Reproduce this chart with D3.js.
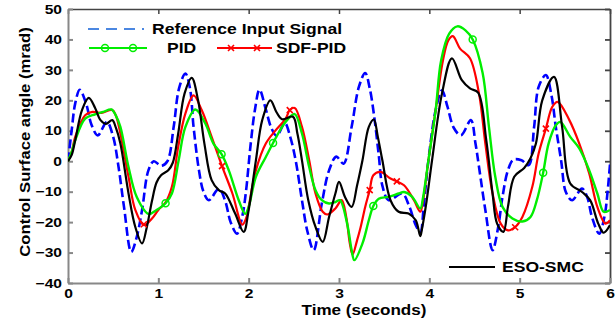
<!DOCTYPE html>
<html>
<head>
<meta charset="utf-8">
<script src="https://cdn.jsdelivr.net/npm/d3@7"></script>
<style>
body { margin: 0; background: #fff; }
text { font-family: "Liberation Sans", Arial, sans-serif; font-weight: bold; fill: #000; }
</style>
</head>
<body>
<svg id="chart" width="615" height="320"></svg>
<script>
// tick values
const xTicks = [0, 1, 2, 3, 4, 5, 6];
const yTicks = [-40, -30, -20, -10, 0, 10, 20, 30, 40, 50];

// [time (s), angle (mrad)]
const reference = [
    [0.00, 0], [0.04, 10], [0.08, 19], [0.13, 23.5], [0.20, 19], [0.26, 12], [0.33, 8.5],
    [0.43, 12.9], [0.50, 8], [0.56, -2], [0.62, -15], [0.70, -29.8], [0.76, -25], [0.82, -16],
    [0.89, -3], [0.95, 0], [1.03, -1.5], [1.10, 0], [1.17, 11.3], [1.23, 24], [1.30, 28.8],
    [1.35, 24], [1.39, 11.3], [1.45, -3], [1.50, -10], [1.56, -12.8], [1.67, -9.0], [1.74, -13],
    [1.80, -20], [1.87, -23.8], [1.93, -18], [1.97, -10], [2.02, 5], [2.07, 17], [2.12, 23.5],
    [2.19, 17], [2.25, 11], [2.31, 8.3], [2.40, 12.5], [2.46, 8], [2.52, 0.3], [2.59, -12.8],
    [2.65, -23], [2.72, -29.2], [2.81, -13.8], [2.89, -3], [2.97, 1.5], [3.05, -0.8], [3.14, 11.3],
    [3.22, 24.4], [3.29, 29], [3.34, 24], [3.39, 14.6], [3.44, 2], [3.48, -8], [3.55, -12.8],
    [3.70, -10.6], [3.78, -15], [3.85, -21], [3.90, -23.2], [3.94, -14], [3.99, 0.3], [4.07, 16.8],
    [4.14, 23.3], [4.20, 18], [4.27, 11], [4.35, 8.5], [4.46, 13.5], [4.51, 6], [4.55, -1.9],
    [4.62, -16], [4.70, -29.2], [4.76, -22], [4.81, -11.7], [4.87, -3], [4.93, 0.5], [5.02, 0.3],
    [5.10, -1.3], [5.16, 11.3], [5.21, 24.4], [5.29, 28.3], [5.35, 22], [5.40, 11.3], [5.46, 0],
    [5.51, -10], [5.58, -12.8], [5.69, -9], [5.75, -12], [5.80, -18.3], [5.88, -23.8], [5.94, -18],
    [5.97, -11], [6.00, -1]
];

const pid = [
    [0, 0], [0.04, 3], [0.08, 6.9], [0.19, 14], [0.30, 15.4], [0.39, 16.2], [0.48, 17], [0.53, 15],
    [0.58, 11.3], [0.67, -1.9], [0.76, -11.7], [0.89, -17.3], [0.98, -16], [1.08, -13.8], [1.15, -10.6],
    [1.225, 0.3], [1.30, 11.3], [1.41, 17], [1.52, 12.4], [1.61, 5.8], [1.70, 2.3], [1.78, -3],
    [1.89, -12.8], [1.96, -17.3], [2.00, -15], [2.08, -5.1], [2.19, 1.4], [2.27, 6], [2.37, 11.3],
    [2.44, 14], [2.51, 15.5], [2.59, 9.1], [2.67, -1.9], [2.74, -9.5], [2.81, -12.8], [2.89, -13.9],
    [2.96, -13.4], [3.01, -12.8], [3.09, -20.5], [3.14, -29.2], [3.17, -32.5], [3.26, -27],
    [3.33, -19.4], [3.38, -14.7], [3.44, -12.3], [3.55, -11.7], [3.66, -10.6], [3.72, -10.1],
    [3.81, -11.7], [3.90, -15.5], [3.93, -12], [3.99, 0.3], [4.07, 16.8], [4.13, 33], [4.22, 41.9],
    [4.31, 44.3], [4.40, 43], [4.48, 40], [4.59, 29], [4.66, 11.3], [4.73, -5.1], [4.81, -15],
    [4.92, -18.8], [5.03, -19.8], [5.12, -18.3], [5.19, -12.8], [5.26, -3.8], [5.32, 5.8],
    [5.40, 11.8], [5.45, 12.9], [5.56, 8], [5.66, 4.2], [5.77, -3], [5.86, -10.6], [5.93, -16.6],
    [6.00, -16]
];

const sdfPid = [
    [0, 0], [0.04, 3], [0.08, 8], [0.19, 15.1], [0.27, 16.2], [0.37, 15.9], [0.49, 16.8], [0.53, 15],
    [0.58, 9.1], [0.67, -5.1], [0.745, -16], [0.84, -21], [0.93, -18.8], [1.00, -16], [1.08, -13.5],
    [1.15, -8.4], [1.22, 4.7], [1.30, 15.7], [1.39, 21.6], [1.48, 16.8], [1.59, 8], [1.705, -1.6],
    [1.82, -10.6], [1.93, -20.8], [1.98, -18], [2.00, -15], [2.08, -3], [2.19, 5.8], [2.30, 10.2],
    [2.41, 14], [2.455, 16.8], [2.51, 17.5], [2.59, 11.3], [2.67, 0.3], [2.74, -10.6], [2.82, -16.6],
    [2.87, -17.5], [2.96, -15.5], [3.03, -12.8], [3.08, -18.3], [3.12, -27], [3.15, -30.7],
    [3.20, -26], [3.24, -21.6], [3.29, -15], [3.34, -9.5], [3.38, -4.6], [3.46, -3.5], [3.57, -5.7],
    [3.64, -6.6], [3.72, -7.9], [3.83, -12.8], [3.90, -16.6], [3.93, -13], [3.99, 0.3], [4.07, 16.8],
    [4.15, 33], [4.21, 39.7], [4.26, 41.1], [4.34, 37], [4.45, 33.8], [4.55, 22.2], [4.62, 5.8],
    [4.70, -10.6], [4.79, -20.5], [4.87, -22.7], [4.95, -21.6], [5.03, -18.3], [5.14, -8.4],
    [5.21, 2.5], [5.29, 10.7], [5.36, 17.8], [5.42, 19.5], [5.55, 13.5], [5.66, 5.8], [5.77, -4],
    [5.86, -15], [5.95, -20.5], [6.00, -19.4]
];

const esoSmc = [
    [0, 0], [0.04, 2], [0.08, 6.9], [0.155, 16.8], [0.23, 20.8], [0.30, 17.5], [0.36, 13.5],
    [0.42, 12.3], [0.49, 13.5], [0.53, 11], [0.58, 5.8], [0.67, -10.6], [0.745, -21.6], [0.82, -27],
    [0.87, -22], [0.93, -13], [0.98, -7], [1.03, -4.6], [1.11, -3], [1.16, -0.5], [1.22, 9.1],
    [1.29, 22.2], [1.37, 27.4], [1.44, 20], [1.51, 5.8], [1.59, -6.2], [1.67, -9.5], [1.74, -10.6],
    [1.85, -17.2], [1.945, -23.2], [2.00, -16], [2.08, 0.3], [2.15, 13.5], [2.24, 20], [2.31, 16],
    [2.37, 13.8], [2.49, 14.6], [2.54, 9], [2.59, 0.3], [2.66, -12.8], [2.74, -21.6], [2.82, -26.5],
    [2.89, -18.3], [2.96, -10.6], [3.00, -6.8], [3.07, -12], [3.14, -15], [3.20, -8], [3.26, 0.3],
    [3.33, 11.3], [3.385, 13.7], [3.43, 8], [3.48, 0.3], [3.57, -12.8], [3.66, -16.6], [3.77, -17.2],
    [3.85, -19.4], [3.90, -24.6], [3.92, -22], [3.97, -13], [4.03, 0.3], [4.14, 22.2], [4.25, 33.8],
    [4.36, 26.6], [4.45, 23.9], [4.54, 22.5], [4.63, 7], [4.70, -10.6], [4.75, -20.5], [4.82, -23.2],
    [4.87, -15], [4.94, -5.1], [5.05, -2.2], [5.12, 1], [5.18, 5.8], [5.25, 20], [5.38, 27.7],
    [5.47, 11.3], [5.56, -7.3], [5.69, -10.1], [5.78, -12.8], [5.87, -20.5], [5.93, -23.5], [6.00, -21]
];

// marker positions on the PID and SDF-PID curves
const pidMarkers = [[1.08, -13.8], [1.70, 2.3], [2.27, 6], [3.38, -14.7], [4.48, 40], [5.26, -3.8]];
const sdfPidMarkers = [[0.84, -20.7], [1.705, -1.6], [2.455, 16.8], [3.34, -9.5], [3.64, -6.6], [4.95, -21.7], [5.29, 10.7]];

const svg = d3.select("#chart");
const plotLeft = 68, plotRight = 610, plotTop = 9, plotBottom = 283;
const textStretch = 1.2;

const x = d3.scaleLinear().domain([0, 6]).range([plotLeft, plotRight]);
const y = d3.scaleLinear().domain([-40, 50]).range([plotBottom, plotTop]);

svg.append("rect").attr("width", 615).attr("height", 320).attr("fill", "#fff");

// box with inward ticks
svg.append("g")
    .attr("transform", "translate(0," + plotTop + ")")
    .call(d3.axisTop(x).tickValues(xTicks).tickSizeInner(-5).tickSizeOuter(0).tickFormat(""))
    .call(g => g.selectAll("line,path").attr("stroke", "#444").attr("stroke-width", 1.5));

svg.append("g")
    .attr("transform", "translate(" + plotRight + ",0)")
    .call(d3.axisRight(y).tickValues(yTicks).tickSizeInner(-5).tickSizeOuter(0).tickFormat(""))
    .call(g => g.selectAll("line,path").attr("stroke", "#444").attr("stroke-width", 1.8));

svg.append("g")
    .attr("transform", "translate(0," + plotBottom + ")")
    .call(d3.axisBottom(x).tickValues(xTicks).tickFormat(d3.format("d"))
        .tickSizeInner(-5).tickSizeOuter(0).tickPadding(6))
    .call(g => g.selectAll("line,path").attr("stroke", "#888").attr("stroke-width", 2))
    .call(g => g.selectAll("text").attr("font-size", 13).attr("font-family", null)
        .attr("transform", "scale(" + textStretch + ",1)"));

svg.append("g")
    .attr("transform", "translate(" + plotLeft + ",0)")
    .call(d3.axisLeft(y).tickValues(yTicks).tickFormat(d3.format("d"))
        .tickSizeInner(-5).tickSizeOuter(0).tickPadding(5))
    .call(g => g.selectAll("line,path").attr("stroke", "#888").attr("stroke-width", 2))
    .call(g => g.selectAll("text").attr("font-size", 13).attr("font-family", null)
        .attr("transform", "scale(" + textStretch + ",1)"));

// axis titles
svg.append("text")
    .attr("transform", "translate(364,315) scale(1.22,1)")
    .attr("text-anchor", "middle")
    .attr("font-size", 14)
    .text("Time (seconds)");

svg.append("text")
    .attr("transform", "translate(30,142) rotate(-90) scale(1.19,1)")
    .attr("text-anchor", "middle")
    .attr("font-size", 14)
    .text("Control Surface angle (mrad)");

// lines
svg.append("clipPath").attr("id", "plot-clip")
    .append("rect").attr("x", plotLeft).attr("y", plotTop)
    .attr("width", plotRight - plotLeft).attr("height", plotBottom - plotTop);

const line = d3.line()
    .x(d => x(d[0]))
    .y(d => y(d[1]))
    .curve(d3.curveCatmullRom.alpha(0.5));

const plot = svg.append("g").attr("clip-path", "url(#plot-clip)");

plot.append("path").datum(reference)
    .attr("d", line).attr("fill", "none")
    .attr("stroke", "#0000ff").attr("stroke-width", 2.6).attr("stroke-dasharray", "9,4");

plot.append("path").datum(sdfPid)
    .attr("d", line).attr("fill", "none")
    .attr("stroke", "#ff0000").attr("stroke-width", 2.2);

plot.append("path").datum(pid)
    .attr("d", line).attr("fill", "none")
    .attr("stroke", "#00ee00").attr("stroke-width", 2.4);

plot.append("path").datum(esoSmc)
    .attr("d", line).attr("fill", "none")
    .attr("stroke", "#000").attr("stroke-width", 2.2);

// markers
function circleMarker(g, cx, cy) {
    g.append("circle").attr("cx", cx).attr("cy", cy).attr("r", 3.5)
        .attr("fill", "none").attr("stroke", "#00ee00").attr("stroke-width", 1.5);
}
function crossMarker(g, cx, cy) {
    g.append("path")
        .attr("d", "M" + (cx - 3) + "," + (cy - 3) + "L" + (cx + 3) + "," + (cy + 3) +
            "M" + (cx - 3) + "," + (cy + 3) + "L" + (cx + 3) + "," + (cy - 3))
        .attr("stroke", "#ff0000").attr("stroke-width", 1.6);
}

pidMarkers.forEach(d => circleMarker(plot, x(d[0]), y(d[1])));
sdfPidMarkers.forEach(d => crossMarker(plot, x(d[0]), y(d[1])));

// legend
const legend = svg.append("g");

legend.append("line").attr("x1", 88).attr("x2", 144).attr("y1", 29).attr("y2", 29)
    .attr("stroke", "#1060d8").attr("stroke-width", 1.6).attr("stroke-dasharray", "11,7");
legend.append("text").attr("transform", "translate(152,34) scale(1.17,1)")
    .attr("font-size", 15).text("Reference Input Signal");

legend.append("line").attr("x1", 89).attr("x2", 147).attr("y1", 48).attr("y2", 48)
    .attr("stroke", "#00ee00").attr("stroke-width", 2);
circleMarker(legend, 105, 48);
circleMarker(legend, 133, 48);
legend.append("text").attr("transform", "translate(167,53) scale(1.17,1)")
    .attr("font-size", 15).text("PID");

legend.append("line").attr("x1", 217).attr("x2", 272).attr("y1", 48).attr("y2", 48)
    .attr("stroke", "#ff0000").attr("stroke-width", 2);
crossMarker(legend, 231, 48);
crossMarker(legend, 257, 48);
legend.append("text").attr("transform", "translate(276,53) scale(1.17,1)")
    .attr("font-size", 15).text("SDF-PID");

legend.append("line").attr("x1", 449).attr("x2", 495).attr("y1", 267).attr("y2", 267)
    .attr("stroke", "#000").attr("stroke-width", 2.2);
legend.append("text").attr("transform", "translate(502,272) scale(1.17,1)")
    .attr("font-size", 15).text("ESO-SMC");
</script>
</body>
</html>
